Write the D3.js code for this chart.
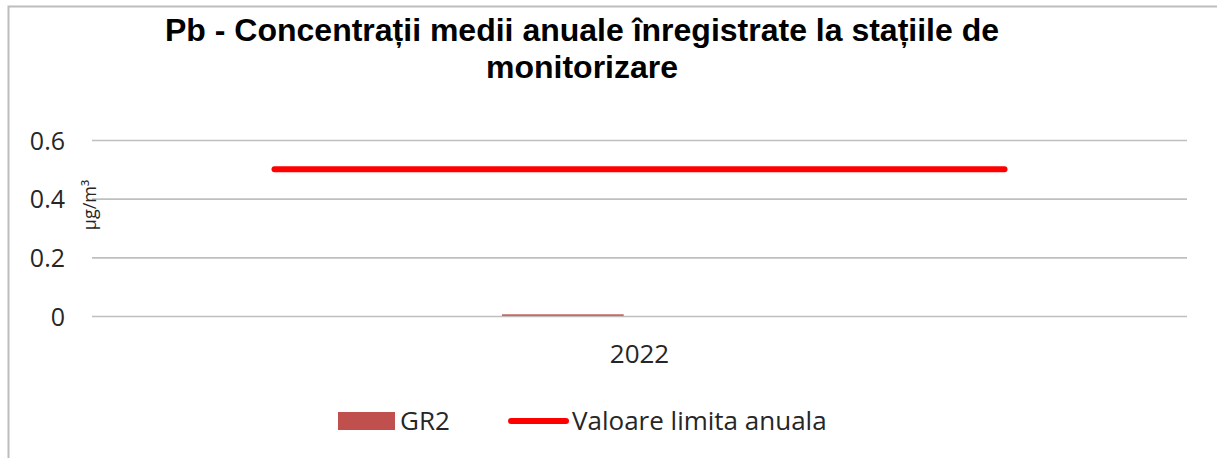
<!DOCTYPE html>
<html>
<head>
<meta charset="utf-8">
<script src="https://cdn.jsdelivr.net/npm/d3@7"></script>
<style>
  body { margin: 0; background: #fff; }
  svg { display: block; }
</style>
</head>
<body>
<svg id="chart" width="1217" height="458"></svg>
<script>
// data
const categories = ["2022"];
const gr2Values = [0.006];
const limitValues = [0.5];
const yTicks = [0, 0.2, 0.4, 0.6];

const width = 1217, height = 458;
const plot = { left: 92, right: 1187, top: 140, bottom: 316 };
const bodyFont = "Open Sans, Noto Sans, sans-serif";

const svg = d3.select("#chart");

// chart frame (only top and left edges visible)
svg.append("path")
  .attr("d", `M8.5,${height} V6.5 H${width}`)
  .attr("fill", "none")
  .attr("stroke", "#bdbdbd")
  .attr("stroke-width", 2);

// title
const title = svg.append("text")
  .attr("text-anchor", "middle")
  .attr("font-family", "Liberation Sans, Arial, sans-serif")
  .attr("font-weight", "bold")
  .attr("font-size", 32)
  .attr("fill", "#000");
title.append("tspan").attr("x", 582).attr("y", 41)
  .text("Pb - Concentrații medii anuale înregistrate la stațiile de");
title.append("tspan").attr("x", 582).attr("y", 78)
  .text("monitorizare");

const x = d3.scaleBand()
  .domain(categories)
  .range([plot.left, plot.right]);

const y = d3.scaleLinear()
  .domain([0, 0.6])
  .range([plot.bottom, plot.top]);

// gridlines + tick labels
const yAxis = d3.axisLeft(y)
  .tickValues(yTicks)
  .tickSize(-(plot.right - plot.left))
  .tickPadding(27)
  .tickFormat(d => d === 0 ? "0" : d3.format(".1f")(d));

const gy = svg.append("g")
  .attr("transform", `translate(${plot.left},0)`)
  .call(yAxis);
gy.select(".domain").remove();
gy.selectAll(".tick line")
  .attr("stroke", "#bfbfbf")
  .attr("stroke-width", 1.6);
gy.selectAll(".tick text")
  .attr("font-family", bodyFont)
  .attr("font-size", 25)
  .attr("fill", "#262626")
  .attr("dy", "0.36em");

// axis title
svg.append("text")
  .attr("transform", `translate(96,205) rotate(-90)`)
  .attr("text-anchor", "middle")
  .attr("font-family", bodyFont)
  .attr("font-size", 18)
  .attr("fill", "#262626")
  .text("µg/m³");

// category labels
svg.append("g")
  .selectAll("text")
  .data(categories)
  .join("text")
  .attr("x", d => x(d) + x.bandwidth() / 2)
  .attr("y", 363)
  .attr("text-anchor", "middle")
  .attr("font-family", bodyFont)
  .attr("font-size", 26)
  .attr("fill", "#262626")
  .text(d => d);

// GR2 bars
const barW = x.bandwidth() / 9;
svg.append("g")
  .selectAll("rect")
  .data(gr2Values)
  .join("rect")
  .attr("x", (d, i) => x(categories[i]) + x.bandwidth() / 2 - barW * 1.13)
  .attr("width", barW)
  .attr("y", d => y(d))
  .attr("height", d => y(0) - y(d))
  .attr("fill", "#C0504D")
  .attr("opacity", 0.85);

// annual limit value line
const inset = x.bandwidth() / 6;
svg.append("g")
  .selectAll("line")
  .data(limitValues)
  .join("line")
  .attr("x1", (d, i) => x(categories[i]) + inset)
  .attr("x2", (d, i) => x(categories[i]) + x.bandwidth() - inset)
  .attr("y1", d => y(d))
  .attr("y2", d => y(d))
  .attr("stroke", "#ff0000")
  .attr("stroke-width", 6)
  .attr("stroke-linecap", "round");

// legend
const legend = svg.append("g")
  .attr("font-family", bodyFont)
  .attr("font-size", 26)
  .attr("fill", "#262626");

legend.append("rect")
  .attr("x", 338).attr("y", 412)
  .attr("width", 57).attr("height", 18)
  .attr("fill", "#C0504D");
legend.append("text")
  .attr("x", 400).attr("y", 430)
  .text("GR2");

legend.append("line")
  .attr("x1", 511).attr("x2", 566)
  .attr("y1", 421).attr("y2", 421)
  .attr("stroke", "#ff0000")
  .attr("stroke-width", 6)
  .attr("stroke-linecap", "round");
legend.append("text")
  .attr("x", 572).attr("y", 430)
  .text("Valoare limita anuala");
</script>
</body>
</html>
